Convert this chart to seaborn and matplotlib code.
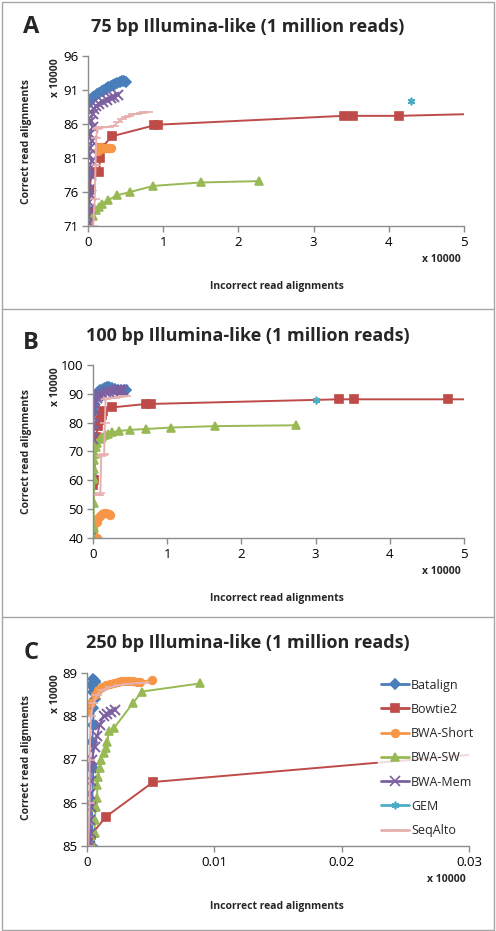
import numpy as np
import pandas as pd
import seaborn as sns
import matplotlib.pyplot as plt
from matplotlib.patches import Rectangle
from matplotlib.lines import Line2D
from matplotlib.ticker import FuncFormatter

# ---- data (units of 10000 reads) ----
tools = ["Batalign", "Bowtie2", "BWA-Short", "BWA-SW", "BWA-Mem", "GEM", "SeqAlto"]
colors = ["#4A7EBB", "#BE4B48", "#F79646", "#98B954", "#7D60A0", "#4BACC6", "#E6B0AF"]
markers = ["D", "s", "o", "^", "x", (6, 2, 0), "_"]

# panel A: 75 bp
a_batalign_x = [0.0, 0.01, 0.02, 0.03, 0.05, 0.07, 0.09, 0.12, 0.15, 0.18, 0.21, 0.24, 0.27, 0.3, 0.33, 0.36, 0.39, 0.42, 0.45, 0.48, 0.5]
a_batalign_y = [88.9, 89.3, 89.5, 89.6, 89.7, 89.9, 90.1, 90.4, 90.6, 90.8, 91.0, 91.2, 91.4, 91.6, 91.8, 91.9, 92.1, 92.2, 92.3, 92.3, 92.2]
a_bowtie2_x = [0.0, 0.01, 0.02, 0.05, 0.15, 0.16, 0.18, 0.32, 0.88, 0.93, 3.4, 3.52, 4.13, 5.6]
a_bowtie2_y = [71.5, 73.0, 76.3, 79.0, 79.0, 81.0, 82.5, 84.2, 85.8, 85.9, 87.2, 87.2, 87.2, 87.6]
a_short_x = [0.13, 0.14, 0.16, 0.18, 0.2, 0.22, 0.24, 0.26, 0.28, 0.3]
a_short_y = [82.0, 82.4, 82.6, 82.5, 82.5, 82.4, 82.4, 82.5, 82.4, 82.4]
a_sw_x = [0.03, 0.06, 0.1, 0.14, 0.18, 0.27, 0.38, 0.56, 0.87, 1.5, 2.28]
a_sw_y = [70.9, 72.5, 73.3, 73.8, 74.2, 74.8, 75.5, 76.0, 76.9, 77.4, 77.6]
a_mem_x = [0.01, 0.0, 0.03, 0.01, 0.04, 0.02, 0.0, 0.04, 0.02, 0.05, 0.01, 0.03, 0.05, 0.02, 0.06, 0.04, 0.06, 0.08, 0.11, 0.15, 0.2, 0.25, 0.3, 0.35, 0.4]
a_mem_y = [71.5, 72.5, 73.5, 74.5, 75.5, 76.5, 77.5, 78.5, 79.5, 80.5, 81.5, 82.5, 83.5, 84.5, 85.5, 86.5, 87.5, 88.2, 88.7, 89.0, 89.3, 89.6, 89.8, 90.0, 90.2]
a_gem_x = [4.29]
a_gem_y = [89.4]
a_seqalto_x = [0.07, 0.09, 0.1, 0.11, 0.12, 0.13, 0.17, 0.22, 0.28, 0.34, 0.4, 0.45, 0.5, 0.55, 0.6, 0.65, 0.7, 0.75, 0.8]
a_seqalto_y = [71.0, 75.0, 80.0, 84.0, 85.2, 85.4, 85.5, 85.5, 85.6, 85.7, 86.3, 86.7, 87.0, 87.2, 87.4, 87.5, 87.6, 87.7, 87.7]

# panel B: 100 bp
b_batalign_x = [0.0, 0.0, 0.0, 0.01, 0.0, 0.02, 0.03, 0.05, 0.07, 0.1, 0.13, 0.16, 0.19, 0.22, 0.26, 0.3, 0.34, 0.38, 0.42, 0.44]
b_batalign_y = [41.0, 61.0, 84.0, 86.0, 87.5, 88.5, 89.3, 90.0, 90.6, 91.2, 91.7, 92.0, 92.2, 92.2, 92.0, 91.7, 91.5, 91.4, 91.5, 91.3]
b_bowtie2_x = [0.0, 0.02, 0.04, 0.07, 0.09, 0.12, 0.14, 0.26, 0.72, 0.78, 3.31, 3.52, 4.79, 5.5]
b_bowtie2_y = [58.5, 60.0, 75.0, 79.0, 81.0, 82.5, 84.0, 85.3, 86.5, 86.5, 88.1, 88.1, 88.1, 88.1]
b_short_x = [0.05, 0.06, 0.07, 0.09, 0.12, 0.15, 0.18, 0.21, 0.23]
b_short_y = [40.0, 45.5, 47.0, 47.8, 48.2, 48.5, 48.6, 48.4, 48.0]
b_sw_x = [0.0, 0.01, 0.01, 0.02, 0.02, 0.02, 0.03, 0.04, 0.06, 0.09, 0.12, 0.16, 0.2, 0.25, 0.35, 0.5, 0.71, 1.05, 1.64, 2.74]
b_sw_y = [40.5, 43.5, 52.0, 60.5, 64.0, 67.0, 69.0, 71.5, 73.0, 74.3, 75.2, 75.8, 76.2, 76.6, 77.1, 77.5, 77.8, 78.3, 78.8, 79.1]
b_mem_x = [0.0, 0.0, 0.01, 0.0, 0.01, 0.02, 0.03, 0.05, 0.07, 0.1, 0.14, 0.18, 0.22, 0.27, 0.32, 0.37, 0.4]
b_mem_y = [74.5, 77.0, 79.5, 82.0, 84.5, 86.5, 87.8, 88.6, 89.2, 89.7, 90.1, 90.5, 90.8, 91.0, 91.2, 91.3, 91.4]
b_gem_x = [3.0]
b_gem_y = [87.9]
b_seqalto_x = [0.06, 0.08, 0.1, 0.11, 0.14, 0.15, 0.16, 0.17, 0.2, 0.25, 0.3, 0.35, 0.4, 0.45]
b_seqalto_y = [55.0, 55.0, 55.5, 68.5, 68.8, 69.0, 80.0, 88.3, 88.4, 88.5, 88.7, 88.9, 89.1, 89.1]

# panel C: 250 bp
c_batalign_x = [0.0004, 0.0004, 0.0005, 0.0004, 0.0005, 0.0005, 0.0006, 0.0005, 0.0004, 0.0005, 0.0006, 0.0005, 0.0006]
c_batalign_y = [85.0, 86.0, 86.8, 87.4, 87.8, 88.2, 88.4, 88.55, 88.7, 88.78, 88.82, 88.85, 88.8]
c_bowtie2_x = [0.0001, 0.0003, 0.0015, 0.0052, 0.04]
c_bowtie2_y = [84.9, 85.25, 85.68, 86.48, 87.36]
c_short_x = [0.0, 0.0003, 0.0006, 0.0009, 0.0012, 0.0015, 0.0018, 0.0021, 0.0024, 0.0027, 0.003, 0.0033, 0.0036, 0.0039, 0.0042, 0.0051]
c_short_y = [88.1, 88.3, 88.48, 88.6, 88.67, 88.72, 88.75, 88.78, 88.8, 88.82, 88.82, 88.81, 88.82, 88.8, 88.8, 88.84]
c_sw_x = [0.0005, 0.0006, 0.0006, 0.0007, 0.0008, 0.0008, 0.0009, 0.001, 0.0011, 0.0013, 0.0015, 0.0016, 0.0017, 0.0021, 0.0036, 0.0043, 0.0089]
c_sw_y = [85.0, 85.3, 85.6, 85.9, 86.1, 86.4, 86.6, 86.8, 87.0, 87.15, 87.27, 87.4, 87.65, 87.72, 88.3, 88.57, 88.76]
c_mem_x = [0.0002, 0.0003, 0.0002, 0.0003, 0.0002, 0.0003, 0.0003, 0.0004, 0.0006, 0.0008, 0.001, 0.0013, 0.0016, 0.0019, 0.0022]
c_mem_y = [85.0, 85.3, 85.6, 85.9, 86.2, 86.5, 86.8, 87.0, 87.3, 87.55, 87.8, 88.0, 88.05, 88.1, 88.15]
c_gem_x = [0.2]
c_gem_y = [88.5]
c_seqalto_x = [0.0001, 0.0002, 0.0002, 0.0003, 0.0005, 0.0008, 0.0012, 0.0018, 0.0025, 0.0032, 0.004, 0.0045]
c_seqalto_y = [85.0, 86.0, 87.0, 88.0, 88.3, 88.5, 88.6, 88.67, 88.72, 88.75, 88.77, 88.78]

panels = [
    dict(letter="A", title="75 bp Illumina-like (1 million reads)",
         xs=[a_batalign_x, a_bowtie2_x, a_short_x, a_sw_x, a_mem_x, a_gem_x, a_seqalto_x],
         ys=[a_batalign_y, a_bowtie2_y, a_short_y, a_sw_y, a_mem_y, a_gem_y, a_seqalto_y],
         xticks=[0, 1, 2, 3, 4, 5], yticks=[71, 76, 81, 86, 91, 96]),
    dict(letter="B", title="100 bp Illumina-like (1 million reads)",
         xs=[b_batalign_x, b_bowtie2_x, b_short_x, b_sw_x, b_mem_x, b_gem_x, b_seqalto_x],
         ys=[b_batalign_y, b_bowtie2_y, b_short_y, b_sw_y, b_mem_y, b_gem_y, b_seqalto_y],
         xticks=[0, 1, 2, 3, 4, 5], yticks=[40, 50, 60, 70, 80, 90, 100]),
    dict(letter="C", title="250 bp Illumina-like (1 million reads)",
         xs=[c_batalign_x, c_bowtie2_x, c_short_x, c_sw_x, c_mem_x, c_gem_x, c_seqalto_x],
         ys=[c_batalign_y, c_bowtie2_y, c_short_y, c_sw_y, c_mem_y, c_gem_y, c_seqalto_y],
         xticks=[0, 0.01, 0.02, 0.03], yticks=[85, 86, 87, 88, 89]),
]

sns.set_theme(style="white")
plt.rcParams["font.family"] = ["Open Sans", "DejaVu Sans"]

W, H = 496, 931
fig = plt.figure(figsize=(W / 100, H / 100), dpi=100)

# axes boxes in pixels: left, top, right, bottom
boxes = [(88, 56, 464, 226), (93, 365, 464, 538), (87, 673, 469, 846)]
offsets = [0, 309, 617]
title_y = [27, 336, 643]
letter_y = [27, 343, 653]
ylab_y = [141, 451, 757]
yoff_y = [78, 387, 694]
xoff_pos = [(441, 260), (441, 572), (446, 879)]
xlab_y = [287, 599, 907]


def fx(px):
    return px / W


def fy(py):
    return 1 - py / H


def msize(mk):
    if mk == "_":
        return 7
    if mk == "x":
        return 6.5
    return 5.5


# outer frame and dividers
fig.patches.append(Rectangle((fx(1.5), fy(929.5)), fx(492), 928 / H, transform=fig.transFigure,
                             fill=False, edgecolor="#A6A6A6", linewidth=1.0))
for yy in offsets[1:]:
    fig.add_artist(Line2D([fx(1.5), fx(493.5)], [fy(yy), fy(yy)], color="#A6A6A6", lw=1.0))

fmt = FuncFormatter(lambda v, p: "0" if v == 0 else f"{v:g}")

for i, p in enumerate(panels):
    l, t, r, b = boxes[i]
    ax = fig.add_axes([fx(l), fy(b), (r - l) / W, (b - t) / H])
    for tool, col, mk, xv, yv in zip(tools, colors, markers, p["xs"], p["ys"]):
        df = pd.DataFrame({"x": xv, "y": yv})
        sns.lineplot(data=df, x="x", y="y", ax=ax, sort=False, estimator=None,
                     color=col, marker=mk, markersize=msize(mk), markeredgecolor=col,
                     markeredgewidth=1.4 if mk == "x" else 1.2, linewidth=1.4, legend=False)
    ax.set_xlim(p["xticks"][0], p["xticks"][-1])
    ax.set_ylim(p["yticks"][0], p["yticks"][-1])
    ax.set_xticks(p["xticks"])
    ax.set_yticks(p["yticks"])
    ax.xaxis.set_major_formatter(fmt)
    ax.set_xlabel("")
    ax.set_ylabel("")
    for s in ["top", "right"]:
        ax.spines[s].set_visible(False)
    for s in ["left", "bottom"]:
        ax.spines[s].set_color("#8C8C8C")
        ax.spines[s].set_linewidth(1.0)
    ax.tick_params(axis="both", which="major", length=4, width=1.0, color="#8C8C8C",
                   labelsize=9.5, labelcolor="#000000", direction="out", pad=3, bottom=True, left=True)
    ax.set_facecolor("none")

    # texts
    fig.text(fx(31), fy(letter_y[i]), p["letter"], fontsize=17, fontweight="bold", ha="center", va="center")
    fig.text(fx(248), fy(title_y[i]), p["title"], fontsize=13, fontweight="bold", ha="center", va="center")
    fig.text(fx(27), fy(ylab_y[i]), "Correct read alignments",
             rotation=90, fontsize=7.5, fontweight="bold", ha="center", va="center")
    fig.text(fx(55), fy(yoff_y[i]), "x 10000",
             rotation=90, fontsize=7.5, fontweight="bold", ha="center", va="center")
    fig.text(fx(xoff_pos[i][0]), fy(xoff_pos[i][1]), "x 10000",
             fontsize=7.5, fontweight="bold", ha="center", va="center")
    fig.text(fx(277), fy(xlab_y[i]), "Incorrect read alignments",
             fontsize=7.5, fontweight="bold", ha="center", va="center")

    if i == 2:
        handles = [Line2D([], [], color=col, marker=mk, markersize=msize(mk),
                          linewidth=2.0, markeredgecolor=col, markeredgewidth=1.2, label=tool)
                   for tool, col, mk in zip(tools, colors, markers)]
        leg = ax.legend(handles=handles, loc="upper left",
                        bbox_to_anchor=((378 - l) / (r - l), 1 - (676 - t) / (b - t)),
                        frameon=True, fontsize=9, handlelength=2.3, handletextpad=0.15,
                        labelspacing=0.9, borderaxespad=0, borderpad=0.2, fancybox=False)
        leg.get_frame().set_facecolor("white")
        leg.get_frame().set_edgecolor("white")

fig.savefig("out.png", dpi=100)
